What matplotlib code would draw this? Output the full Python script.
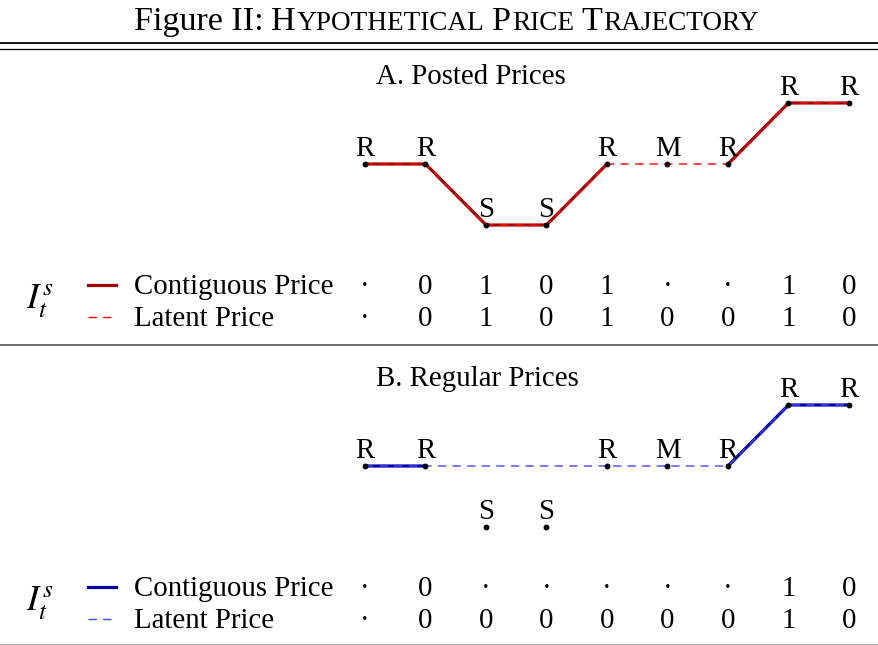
import numpy as np
import matplotlib
matplotlib.use('Agg')
import matplotlib.pyplot as plt
import matplotlib.transforms as mtransforms
from matplotlib.lines import Line2D

plt.rcParams['font.family'] = ['Liberation Serif', 'DejaVu Serif']
plt.rcParams['mathtext.fontset'] = 'stix'

# data
periods = np.arange(9)
price_types = ['R', 'R', 'S', 'S', 'R', 'M', 'R', 'R', 'R']
posted_latent = [2, 2, 1, 1, 2, 2, 2, 3, 3]
posted_observed = [2, 2, 1, 1, 2, np.nan, 2, 3, 3]
regular_latent = [2, 2, 2, 2, 2, 2, 2, 3, 3]
regular_observed = [2, 2, np.nan, np.nan, 2, np.nan, 2, 3, 3]

posted_contig_ind = ['·', '0', '1', '0', '1', '·', '·', '1', '0']
posted_latent_ind = ['·', '0', '1', '0', '1', '0', '0', '1', '0']
regular_contig_ind = ['·', '0', '·', '·', '·', '·', '·', '1', '0']
regular_latent_ind = ['·', '0', '0', '0', '0', '0', '0', '1', '0']

W, H = 879, 645
fig = plt.figure(figsize=(W / 100, H / 100), dpi=100)
# transform in image pixels (origin top left)
px = mtransforms.Affine2D().scale(1 / W, -1 / H).translate(0, 1) + fig.transFigure

FS = 20.8
x0_px, dx_px, dy_px = 365, 60.5, 61


def panel(top, bottom, mid_px, title, observed, latent, contig_ind, latent_ind,
          c_solid, c_dash):
    ax = fig.add_axes([0, 1 - bottom / H, 1, (bottom - top) / H])
    ax.axis('off')
    ax.set_xlim(-x0_px / dx_px, (W - x0_px) / dx_px)
    ax.set_ylim(2 - (bottom - mid_px) / dy_px, 2 + (mid_px - top) / dy_px)

    ax.plot(periods, observed, color=c_solid, lw=2.3, solid_capstyle='butt', zorder=2)
    ax.plot(periods, latent, color=c_dash, lw=1.0, dashes=(6, 4.5), zorder=3)
    ax.plot(periods, posted_latent, 'o', color='black', ms=3.2, zorder=4)
    for i, lab in enumerate(price_types):
        ax.annotate(lab, (periods[i], posted_latent[i]), xytext=(0, 5.5),
                    textcoords='offset points', ha='center', va='baseline',
                    fontsize=FS)

    colpx = mtransforms.blended_transform_factory(ax.transData, px)
    fig.text(376, mid_px - 80, title, transform=px, fontsize=FS, va='baseline')

    r1 = mid_px + 130
    r2 = r1 + 32
    fig.text(40, (r1 + r2) / 2 - 9, r'$I_t^s$', transform=px, fontsize=FS + 5,
             ha='center', va='center')
    fig.add_artist(Line2D([88, 116], [r1 - 9, r1 - 9], transform=px,
                          color=c_solid, lw=2.3))
    fig.add_artist(Line2D([88, 116], [r2 - 9, r2 - 9], transform=px,
                          color=c_dash, lw=1.0, dashes=(6, 4.5)))
    fig.text(134, r1, 'Contiguous Price', transform=px, fontsize=FS, va='baseline')
    fig.text(134, r2, 'Latent Price', transform=px, fontsize=FS, va='baseline')
    for i in periods:
        ax.text(i, r1, contig_ind[i], transform=colpx, fontsize=FS,
                ha='center', va='baseline')
        ax.text(i, r2, latent_ind[i], transform=colpx, fontsize=FS,
                ha='center', va='baseline')
    return ax


panel(50, 345, 164, 'A. Posted Prices', posted_observed, posted_latent,
      posted_contig_ind, posted_latent_ind, '#a00000', '#ff0000')
panel(345, 645, 466, 'B. Regular Prices', regular_observed, regular_latent,
      regular_contig_ind, regular_latent_ind, '#0000a8', '#4646ff')

# title in small caps
big, small = 24.5, 19.6
pieces = [('Figure II:', big, 1), ('H', big, 0), ('YPOTHETICAL', small, 1),
          ('P', big, 0), ('RICE', small, 1), ('T', big, 0), ('RAJECTORY', small, 0)]
renderer = fig.canvas.get_renderer()
texts, widths = [], []
for s, size, gap in pieces:
    t = fig.text(0, 30, s, transform=px, fontsize=size, va='baseline')
    bb = t.get_window_extent(renderer)
    texts.append(t)
    widths.append(bb.width + (8 if gap else 0.5))
x = (W - sum(widths)) / 2 + 7
for t, w in zip(texts, widths):
    t.set_x(x)
    x += w

# rules
fig.add_artist(Line2D([0, W], [43, 43], transform=px, color='black', lw=1.3))
fig.add_artist(Line2D([0, W], [48.5, 48.5], transform=px, color='black', lw=0.9))
fig.add_artist(Line2D([0, W], [345, 345], transform=px, color='#707070', lw=1.4))
fig.add_artist(Line2D([0, W], [644, 644], transform=px, color='#b0b0b0', lw=0.9))

fig.savefig('out.png', dpi=100)
